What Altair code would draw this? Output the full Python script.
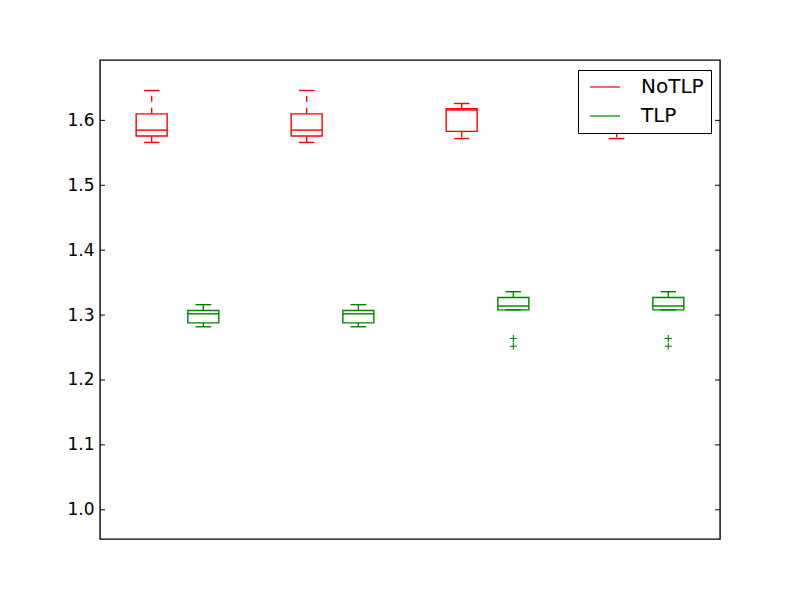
import altair as alt
import pandas as pd

# ---- data ----
series = ["NoTLP", "TLP"]
colors = ["#ff0000", "#008000"]

notlp_pos = [1, 4, 7, 10]
notlp_low = [1.566, 1.566, 1.572, 1.572]
notlp_q1 = [1.576, 1.576, 1.583, 1.583]
notlp_med = [1.585, 1.585, 1.616, 1.616]
notlp_q3 = [1.610, 1.610, 1.618, 1.618]
notlp_high = [1.646, 1.646, 1.626, 1.626]

tlp_pos = [2, 5, 8, 11]
tlp_low = [1.282, 1.282, 1.308, 1.308]
tlp_q1 = [1.288, 1.288, 1.308, 1.308]
tlp_med = [1.302, 1.302, 1.314, 1.314]
tlp_q3 = [1.307, 1.307, 1.327, 1.327]
tlp_high = [1.316, 1.316, 1.336, 1.336]

outlier_pos = [8, 8, 11, 11]
outlier_val = [1.264, 1.252, 1.264, 1.252]
outlier_series = ["TLP", "TLP", "TLP", "TLP"]

ytick_values = [1.0, 1.1, 1.2, 1.3, 1.4, 1.5, 1.6]

# ---- tables ----
boxes = pd.concat([
    pd.DataFrame({"series": "NoTLP", "pos": notlp_pos, "low": notlp_low, "q1": notlp_q1,
                  "med": notlp_med, "q3": notlp_q3, "high": notlp_high}),
    pd.DataFrame({"series": "TLP", "pos": tlp_pos, "low": tlp_low, "q1": tlp_q1,
                  "med": tlp_med, "q3": tlp_q3, "high": tlp_high}),
], ignore_index=True)
outliers = pd.DataFrame({"series": outlier_series, "pos": outlier_pos, "val": outlier_val})
ticks = pd.DataFrame({"v": ytick_values})

xscale = alt.Scale(domain=[0, 12], nice=False, zero=False)
yscale = alt.Scale(domain=[0.955, 1.693], nice=False, zero=False)
cscale = alt.Scale(domain=series, range=colors)

legend = alt.Legend(
    title=None, orient="none", legendX=478, legendY=10,
    symbolType="M-3,0H3", symbolSize=100, symbolStrokeWidth=1.2,
    labelFontSize=20, labelFont="DejaVu Sans", labelOffset=26, labelColor="black",
    rowPadding=9, padding=7, symbolOffset=10,
    strokeColor="black", fillColor="white",
)

def stroke():
    return alt.Stroke("series:N", scale=cscale, legend=legend)

base = alt.Chart(boxes).transform_calculate(
    xl="datum.pos - 0.3", xr="datum.pos + 0.3",
    cl="datum.pos - 0.15", cr="datum.pos + 0.15",
)

yaxis = alt.Axis(
    values=ytick_values, format=".1f", grid=False, ticks=False, tickSize=0,
    labelFontSize=17, labelFont="DejaVu Sans", labelColor="black",
    labelPadding=6, domain=False, title=None,
)

box = base.mark_rect(fillOpacity=0, strokeWidth=1.4).encode(
    x=alt.X("xl:Q", scale=xscale, axis=None), x2="xr:Q",
    y=alt.Y("q1:Q", scale=yscale, axis=yaxis), y2="q3:Q",
    stroke=stroke(),
)
median = base.mark_rule(strokeWidth=1.4).encode(
    x=alt.X("xl:Q", scale=xscale), x2="xr:Q",
    y=alt.Y("med:Q", scale=yscale), stroke=stroke(),
)
wh_up = base.mark_rule(strokeWidth=1.4, strokeDash=[6, 6]).encode(
    x=alt.X("pos:Q", scale=xscale),
    y=alt.Y("q3:Q", scale=yscale), y2="high:Q", stroke=stroke(),
)
wh_lo = base.mark_rule(strokeWidth=1.4, strokeDash=[6, 6]).encode(
    x=alt.X("pos:Q", scale=xscale),
    y=alt.Y("q1:Q", scale=yscale), y2="low:Q", stroke=stroke(),
)
cap_up = base.mark_rule(strokeWidth=1.4).encode(
    x=alt.X("cl:Q", scale=xscale), x2="cr:Q",
    y=alt.Y("high:Q", scale=yscale), stroke=stroke(),
)
cap_lo = base.mark_rule(strokeWidth=1.4).encode(
    x=alt.X("cl:Q", scale=xscale), x2="cr:Q",
    y=alt.Y("low:Q", scale=yscale), stroke=stroke(),
)
fliers = alt.Chart(outliers).mark_point(
    shape="M-1,0L1,0M0,-1L0,1", size=49, strokeWidth=1.1, filled=False, opacity=1
).encode(
    x=alt.X("pos:Q", scale=xscale),
    y=alt.Y("val:Q", scale=yscale), stroke=stroke(),
)
tick_l = alt.Chart(ticks).mark_rule(color="black", strokeWidth=1).encode(
    y=alt.Y("v:Q", scale=yscale), x=alt.value(0), x2=alt.value(5),
)
tick_r = alt.Chart(ticks).mark_rule(color="black", strokeWidth=1).encode(
    y=alt.Y("v:Q", scale=yscale), x=alt.value(615), x2=alt.value(620),
)

chart = alt.layer(
    box, median, wh_up, wh_lo, cap_up, cap_lo, fliers, tick_l, tick_r
).properties(
    width=620, height=479,
    autosize=alt.AutoSizeParams(type="none"),
    padding={"left": 100, "top": 60, "right": 80, "bottom": 61},
    background="white",
).configure(
    font="DejaVu Sans",
    view=alt.ViewConfig(stroke="black", strokeWidth=1.4),
)

chart.save("out.html", embed_options={"renderer": "svg", "actions": False})
